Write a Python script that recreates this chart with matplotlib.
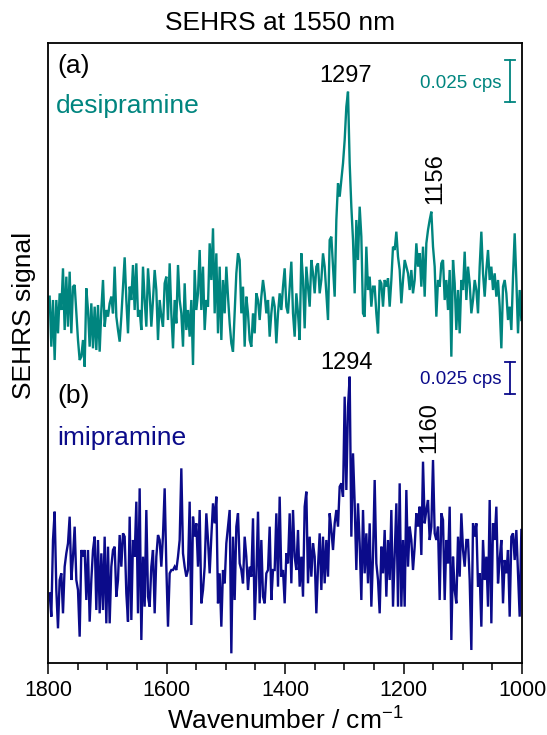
import numpy as np
import matplotlib
matplotlib.use("Agg")
import matplotlib.pyplot as plt

plt.rcParams['font.family'] = ['Liberation Sans', 'DejaVu Sans']
plt.rcParams['mathtext.fontset'] = 'custom'
plt.rcParams['mathtext.rm'] = 'Liberation Sans'
plt.rcParams['mathtext.it'] = 'Liberation Sans'

# ---------------- data (SEHRS signal, arbitrary units) ----------------
WN_START, WN_END = 1797.2, 1001.1   # spectral axis of the recorded spectra (cm-1)

desipramine_1 = [250,100,240,60,240,140,260,210,335,150,
                 310,160,325,140,280,285,200,120,60,70,
                 120,40,275,210,100,230,95,220,90,225,
                 85,210,300,160,210,190,230,250,200,340,
                 190,150,115,190,280,368,240,140,280,240,
                 345,210,350,190,210,150,340,240,160,335,
                 260,160,240,330,270,120,240,190,160,290,
                 310,180,350,200,95,240,170,345,240,200,
                 100,290,150,210,130,240,45,330,210,260,
                 390,210,340,150,240,220]
desipramine_2 = [410,300,455,200,380,140,340,120,300,200,
                 340,250,170,110,85,200,320,380,360,200,
                 280,100,250,200,120,100,200,140,260,240,
                 180,250,300,260,200,240,130,200,250,220,
                 110,200,260,210,280,335,220,200,280,355,
                 200,130,260,200,120,380,300,155,340,280,
                 220,360,320,260,340,350,260,300,380,340,
                 260,180,420,430,340,250,480,590,550,600,
                 650,720,820,865,650,520,420,260,480,360,
                 520,430,200]
desipramine_3 = [190,400,270,310,220,280,280,200,140,300,
                 290,220,300,280,305,220,300,400,390,445,
                 370,330,230,300,360,340,320,270,330,260,
                 300,410,340,380,280,400,250,410,450,480,
                 505,400,340,190,300,280,350,360,240,300,
                 210,330,70,360,290,150,270,140,300,270,
                 385,240,340,290,200,240,300,270,200,340,
                 445,320,250,330,390,300,340,270,320,250,
                 300,220,95,280,300,260,180,220,150,310,
                 440,300,140,270,180]

imipramine_1 = [215,145,375,460,225,110,255,275,155,295,
                335,365,445,255,325,415,255,225,85,345,
                325,345,195,345,130,255,345,385,165,375,
                155,335,165,385,125,355,125,295,345,355,
                205,255,390,295,395,385,215,130,445,135,
                375,325,490,155,530,75,325,175,465,205,
                175,295,345,155,325,390,375,295,390,530,
                295,115,275,285,285,295,285,325,375,590,
                335,295,265,285,490,120,445,385,425,295,
                465,185,225,295,455,375]
imipramine_2 = [275,385,485,425,505,185,275,115,285,245,
                365,415,465,35,385,195,415,455,305,285,
                245,385,325,225,295,265,440,135,265,460,
                185,375,205,185,275,285,415,195,285,285,
                455,235,505,265,285,185,335,305,455,245,
                465,325,285,405,235,325,205,475,520,245,
                385,265,365,325,155,295,395,225,385,245,
                375,265,455,405,345,425,465,415,535,545,
                505,805,525,775,865,385,635,485,285,485,
                365,195,465]
imipramine_3 = [275,395,245,425,175,325,555,305,255,155,
                355,275,405,205,375,255,465,175,325,485,
                175,545,175,375,175,525,295,415,375,285,
                355,455,415,475,330,610,425,465,495,375,
                415,615,395,375,415,195,455,435,195,375,
                305,475,75,325,225,185,385,265,455,345,
                295,375,375,255,45,425,385,425,235,275,
                115,375,255,325,175,495,125,425,375,475,
                245,315,375,185,315,275,345,145,385,395,
                315,405,275,145,405]

names = ["desipramine", "imipramine"]
panel_tags = ["(a)", "(b)"]
peak_labels_a = ["1297", "1156"]
peak_labels_b = ["1294", "1160"]
scale_bar_cps = 0.025
units_per_cps = [5040, 3840]          # a.u. per cps for (a) and (b)
xticks = [1800, 1600, 1400, 1200, 1000]

# ---------------- styles / layout ----------------
TEAL = "#00857F"
NAVY = "#0B0B8A"
OFFSET_A = 849
OFFSET_B = -6

desi = np.concatenate([desipramine_1, desipramine_2, desipramine_3]).astype(float)
imi = np.concatenate([imipramine_1, imipramine_2, imipramine_3]).astype(float)
wn = np.linspace(WN_START, WN_END, len(desi))

fig = plt.figure(figsize=(5.47, 7.35), dpi=100)
ax = fig.add_axes([48/547, 1-663/735, 474/547, 620/735])

ax.plot(wn, desi + OFFSET_A, color=TEAL, lw=1.7, solid_joinstyle='miter')
ax.plot(wn, imi + OFFSET_B, color=NAVY, lw=1.7, solid_joinstyle='miter')

ax.set_xlim(1800, 1000)
ax.set_ylim(0, 1860)
ax.set_xticks(xticks)
ax.set_xticks(np.arange(1000, 1801, 50), minor=True)
ax.tick_params(axis='x', which='major', direction='out', length=8, width=1.1,
               labelsize=15.5, pad=4, top=False)
ax.tick_params(axis='x', which='minor', direction='out', length=5, width=1.1, top=False)
ax.set_yticks([])
for s in ax.spines.values():
    s.set_linewidth(1.3)

ax.set_xlabel(r"Wavenumber / cm$^{\mathregular{-1}}$", fontsize=19, labelpad=5)
ax.set_ylabel("SEHRS signal", fontsize=19)
ax.yaxis.set_label_coords(-0.025, 0.56)
ax.set_title("SEHRS at 1550 nm", fontsize=19, pad=9, x=0.49)

T = ax.transAxes
ax.text(0.019, 0.9516, panel_tags[0], transform=T, fontsize=19, va='baseline', ha='left')
ax.text(0.017, 0.887, names[0], transform=T, fontsize=19, va='baseline', ha='left', color=TEAL)
ax.text(0.019, 0.419, panel_tags[1], transform=T, fontsize=19, va='baseline', ha='left')
ax.text(0.019, 0.3516, names[1], transform=T, fontsize=19, va='baseline', ha='left', color=NAVY)

ax.text(0.6287, 0.937, peak_labels_a[0], transform=T, fontsize=17, va='baseline', ha='center')
ax.text(0.8175, 0.782, peak_labels_a[1], transform=T, fontsize=17, va='center', ha='center', rotation=90)
ax.text(0.6287, 0.474, peak_labels_b[0], transform=T, fontsize=17, va='baseline', ha='center')
ax.text(0.804, 0.379, peak_labels_b[1], transform=T, fontsize=17, va='center', ha='center', rotation=90)

# scale bars (data coordinates)
bar_x = 1020
cap = 9
for top_y, upc, col, txt_y in [(1809, units_per_cps[0], TEAL, 0.9275),
                               (903, units_per_cps[1], NAVY, 0.4495)]:
    length = scale_bar_cps * upc
    ax.plot([bar_x, bar_x], [top_y - length, top_y], color=col, lw=1.3)
    ax.plot([bar_x - cap, bar_x + cap], [top_y, top_y], color=col, lw=1.3)
    ax.plot([bar_x - cap, bar_x + cap], [top_y - length, top_y - length], color=col, lw=1.3)
    ax.text(0.957, txt_y, f"{scale_bar_cps} cps", transform=T, fontsize=13.5,
            va='baseline', ha='right', color=col)

fig.savefig("out.png", dpi=100)
